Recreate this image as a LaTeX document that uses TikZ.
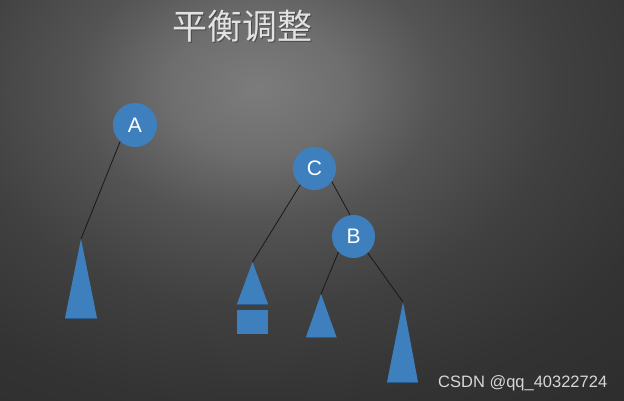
\documentclass[tikz,border=0pt]{standalone}
\usepackage{fontspec}
\setmainfont{Liberation Sans}
\newfontfamily\cjkfont{Noto Sans CJK SC}
\definecolor{nodeblue}{RGB}{62,128,190}
\definecolor{edgeblue}{RGB}{42,92,142}
\definecolor{linecol}{RGB}{24,24,24}
\definecolor{titlecol}{RGB}{226,226,226}
\definecolor{markcol}{RGB}{215,215,215}
\definecolor{bgA}{RGB}{124,124,124}
\definecolor{bgB}{RGB}{110,110,110}
\definecolor{bgC}{RGB}{84,84,84}
\definecolor{bgD}{RGB}{64,64,64}
\definecolor{bgE}{RGB}{51,51,51}
\definecolor{bgF}{RGB}{45,45,45}
\definecolor{bgG}{RGB}{42,42,42}
\pgfdeclareradialshading{bgshade}{\pgfpointorigin}{color(0bp)=(bgA); color(3bp)=(bgB); color(6bp)=(bgC); color(10bp)=(bgD); color(14.5bp)=(bgE); color(19bp)=(bgF); color(22bp)=(bgG); color(50bp)=(bgG)}
\tikzset{
  treenode/.style={circle, fill=nodeblue, minimum size=43pt, inner sep=0pt, text=white, font=\fontsize{21}{21}\selectfont},
  treeedge/.style={draw=linecol, line width=0.8pt},
  subtree/.style={fill=nodeblue},
  subbase/.style={draw=edgeblue, line width=1pt}
}
\begin{document}
\begin{tikzpicture}[x=1pt,y=-1pt]
\useasboundingbox (0,0) rectangle (624,400);
\fill[bgG] (0,0) rectangle (624,400);
\begin{scope}
\clip (0,0) rectangle (624,400);
\shade[shading=bgshade] (258,88) ellipse [x radius=750, y radius=550];
\end{scope}

% title
\node[text=black, opacity=0.35, font=\cjkfont\fontsize{35}{35}\selectfont, inner sep=0pt] (titleshadow) at (243,27.5) {平衡调整};
\node[text=titlecol, font=\cjkfont\fontsize{35}{35}\selectfont, inner sep=0pt] (title) at (242,26) {平衡调整};

% tree nodes
\node[treenode, minimum size=44pt] (A) at (135,125) {A};
\node[treenode] (C) at (314.5,168.5) {C};
\node[treenode] (B) at (353.5,236.5) {B};

% subtree apexes
\coordinate (t1) at (81,239);
\coordinate (t2) at (252.5,262);
\coordinate (t3) at (321,294);
\coordinate (t4) at (403,302);

% subtrees
\fill[subtree] (t1) -- (97,318) -- (65,318) -- cycle;
\draw[subbase] (65,318) -- (97,318);
\fill[subtree] (t2) -- (268,304) -- (237,304) -- cycle;
\draw[subbase] (237,304) -- (268,304);
\fill[subtree] (237,310) rectangle (268,334);
\fill[subtree] (t3) -- (336.5,337) -- (306,337) -- cycle;
\draw[subbase] (306,337) -- (336.5,337);
\fill[subtree] (t4) -- (418,382) -- (387,382) -- cycle;
\draw[subbase] (387,382) -- (418,382);

% edges
\draw[treeedge] (A.228) -- (t1);
\draw[treeedge] (C.229) -- (t2);
\draw[treeedge] (C.323) -- (B.99);
\draw[treeedge] (B.226) -- (t3);
\draw[treeedge] (B.311) -- (t4);

% watermark
\node[anchor=base west, text=markcol, font=\fontsize{16.5}{16.5}\selectfont, inner sep=0pt] (mark) at (438,387) {CSDN @qq\_40322724};
\end{tikzpicture}
\end{document}
